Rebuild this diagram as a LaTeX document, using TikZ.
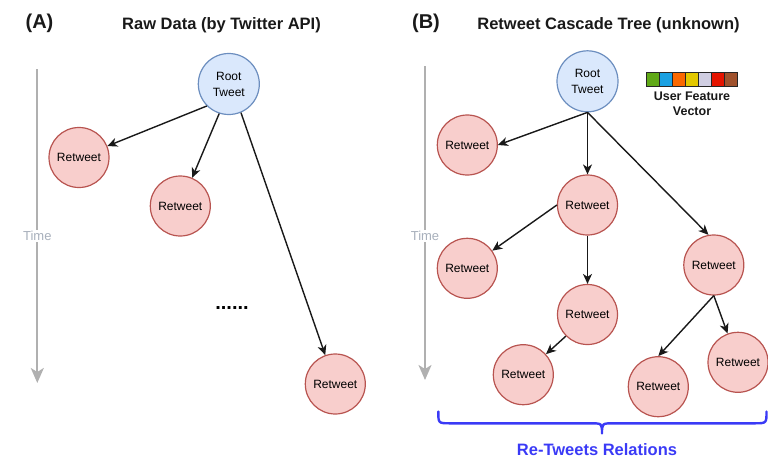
\documentclass[tikz,border=0pt]{standalone}
\usepackage{fontspec}
\setmainfont{Liberation Sans}
\usetikzlibrary{arrows.meta}

\definecolor{rootfill}{HTML}{DAE8FC}
\definecolor{rootline}{HTML}{6C8EBF}
\definecolor{rtfill}{HTML}{F8CECC}
\definecolor{rtline}{HTML}{B85450}
\definecolor{axisgray}{HTML}{B0B0B0}
\definecolor{timegray}{HTML}{A8B0BC}
\definecolor{braceblue}{HTML}{3A3AF6}
\definecolor{fvA}{HTML}{60A917}
\definecolor{fvB}{HTML}{1BA1E2}
\definecolor{fvC}{HTML}{FA6800}
\definecolor{fvD}{HTML}{E3C800}
\definecolor{fvE}{HTML}{D0CEE2}
\definecolor{fvF}{HTML}{E51400}
\definecolor{fvG}{HTML}{A0522D}

\tikzset{
  roottweet/.style={circle, minimum size=61pt, inner sep=0pt, fill=rootfill, draw=rootline,
    line width=1.2pt, align=center, font=\fontsize{12}{16}\selectfont},
  retweet/.style={circle, minimum size=60pt, inner sep=0pt, fill=rtfill, draw=rtline,
    line width=1.2pt, font=\fontsize{12}{14}\selectfont},
  arr/.style={draw=black!90, line width=1.4pt, -{Stealth[length=10pt,width=9pt,inset=3pt]}},
  timeaxis/.style={draw=axisgray, line width=2pt, -{Stealth[length=15pt,width=13pt,inset=4pt]}},
  timelabel/.style={fill=white, text=timegray, inner sep=1.5pt, font=\fontsize{13}{15}\selectfont},
  paneltag/.style={font=\fontsize{20}{24}\selectfont\bfseries, text=black!90},
  paneltitle/.style={font=\fontsize{16.5}{20}\selectfont\bfseries, text=black!90},
  fvcell/.style={draw=black!85, line width=1pt},
  brace/.style={draw=braceblue, line width=2.4pt, line cap=round, line join=round}
}

\begin{document}
\begin{tikzpicture}[x=1pt, y=-1pt]
\useasboundingbox (0,0) rectangle (768,458);

% ---------- panel (A): raw data ----------
\node[paneltag] (tagA) at (39.5,23) {(A)};
\node[paneltitle] (titleA) at (221.5,25) {Raw Data (by Twitter API)};

\coordinate (timeAtop) at (37.3,69);
\coordinate (timeAend) at (37.3,383);
\draw[timeaxis] (timeAtop) -- (timeAend);
\node[timelabel] (timeA) at (37.3,236) {Time};

\node[roottweet] (rootA) at (228.8,84) {Root\\Tweet};
\node[retweet] (a1) at (79,157.5) {Retweet};
\node[retweet] (a2) at (180.3,206) {Retweet};
\node[retweet] (a3) at (335.3,384) {Retweet};
\node[font=\fontsize{20}{24}\selectfont\bfseries] (dots) at (232,308) {......};

\draw[arr] (rootA.south west) -- (a1);
\draw[arr] (rootA.252) -- (a2);
\draw[arr] (rootA.293) -- (a3);

% ---------- panel (B): cascade tree ----------
\node[paneltag] (tagB) at (426,23) {(B)};
\node[paneltitle] (titleB) at (608.5,25) {Retweet Cascade Tree (unknown)};

\coordinate (timeBtop) at (425,66);
\coordinate (timeBend) at (425,380);
\draw[timeaxis] (timeBtop) -- (timeBend);
\node[timelabel] (timeB) at (425,236) {Time};

\node[roottweet] (rootB) at (587.5,81.3) {Root\\Tweet};
\node[retweet] (b1) at (467.3,145) {Retweet};
\node[retweet] (b2) at (587.5,205) {Retweet};
\node[retweet] (b3) at (467.3,268.3) {Retweet};
\node[retweet] (b4) at (713.8,265) {Retweet};
\node[retweet] (b5) at (587.5,314.5) {Retweet};
\node[retweet] (b6) at (523.3,374.7) {Retweet};
\node[retweet] (b7) at (658.3,386.7) {Retweet};
\node[retweet] (b8) at (738,362.3) {Retweet};

\draw[arr] (rootB.south) -- (b1.east);
\draw[arr] (rootB.south) -- (b2.north);
\draw[arr] (rootB.south) -- (b4.100);
\draw[arr] (b2.west) -- (b3);
\draw[arr] (b2.south) -- (b5.north);
\draw[arr] (b5.south west) -- (b6);
\draw[arr] (b4.south) -- (b7.north);
\draw[arr] (b4.south) -- (b8);

% user feature vector
\foreach \c [count=\i from 0] in {fvA,fvB,fvC,fvD,fvE,fvF,fvG}{
  \fill[\c] (646.7+12.94*\i,72.7) rectangle ++(12.94,13.3);
  \draw[fvcell] (646.7+12.94*\i,72.7) rectangle ++(12.94,13.3);
}
\node[font=\fontsize{12.5}{15}\selectfont\bfseries, align=center, text=black!90] (fvlabel)
  at (692,104) {User Feature\\Vector};

% brace over the re-tweet relations
\coordinate (braceL) at (438.3,411.5);
\coordinate (braceTip) at (602,433.5);
\coordinate (braceR) at (766.5,411.5);
\draw[brace] (braceL) .. controls (438.3,423.3) .. (450,423.3) -- (590,423.3)
  .. controls (602,423.3) .. (braceTip) .. controls (602,423.3) .. (614,423.3)
  -- (754.5,423.3) .. controls (766.5,423.3) .. (braceR);
\node[font=\fontsize{16.5}{20}\selectfont\bfseries, text=braceblue] (relations) at (597,450) {Re-Tweets Relations};

\end{tikzpicture}
\end{document}
